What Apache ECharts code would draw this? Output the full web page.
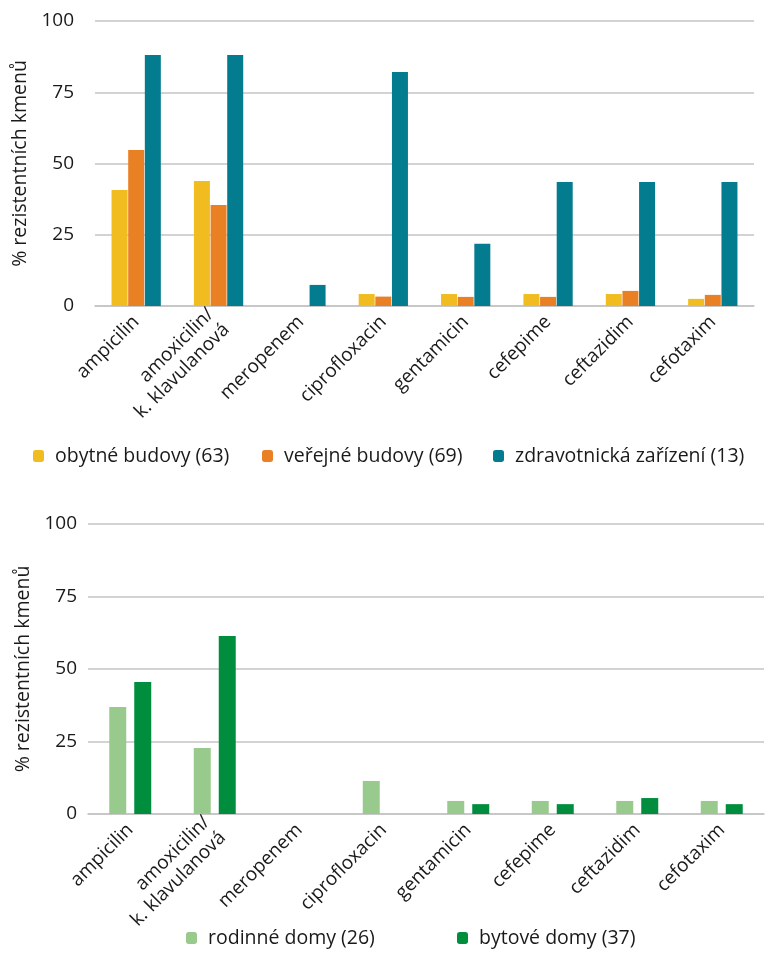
<!DOCTYPE html>
<html>
<head>
<meta charset="utf-8">
<script src="https://cdn.jsdelivr.net/npm/echarts@6/dist/echarts.min.js"></script>
<style>
  html, body { margin: 0; padding: 0; background: #fff; }
  #chart { width: 776px; height: 970px; }
</style>
</head>
<body>
<div id="chart"></div>
<script>
// Antibiotics on the x axis (shared by both panels)
const antibiotics = ['ampicilin', 'amoxicilin/\nk. klavulanová', 'meropenem', 'ciprofloxacin',
  'gentamicin', 'cefepime', 'ceftazidim', 'cefotaxim'];

// Panel 1: building types (sample counts in brackets)
const residential = [40.7, 43.9, 0, 4.2, 4.2, 4.2, 4.2, 2.5];
const publicBuildings = [54.7, 35.4, 0, 3.3, 3.2, 3.2, 5.3, 3.9];
const healthcare = [88.1, 88.1, 7.4, 82.1, 21.8, 43.5, 43.5, 43.5];

// Panel 2: residential buildings split by type
const familyHouses = [36.9, 22.8, 0, 11.4, 4.5, 4.5, 4.5, 4.5];
const apartmentBlocks = [45.5, 61.4, 0, 0, 3.4, 3.4, 5.5, 3.4];

const yTicks = [0, 25, 50, 75, 100];
const yName = '% rezistentních kmenů';

const FONT = '"Open Sans", "Noto Sans", sans-serif';
const TXT = '#1a1a1a';
const GRID_LINE = '#c4c4c4';

function xAxisFor(gridIndex) {
  return {
    type: 'category', gridIndex, data: antibiotics,
    axisLine: { show: true, lineStyle: { color: GRID_LINE, width: 1.5 } },
    axisTick: { show: false },
    axisLabel: { rotate: 45, interval: 0, margin: 13, color: TXT, fontFamily: FONT,
      fontSize: 19, lineHeight: 22 }
  };
}
function yAxisFor(gridIndex, gap, labelMargin) {
  return {
    type: 'value', gridIndex, min: yTicks[0], max: yTicks[yTicks.length - 1], interval: 25,
    name: yName, nameLocation: 'middle', nameRotate: 90, nameGap: gap,
    nameTextStyle: { color: TXT, fontFamily: FONT, fontSize: 19.5 },
    axisLine: { show: false }, axisTick: { show: false },
    axisLabel: { color: TXT, fontFamily: FONT, fontSize: 19, margin: labelMargin },
    splitLine: { lineStyle: { color: GRID_LINE, width: 1.5 } }
  };
}
function bar(name, data, color, axisIndex, width, gap) {
  return { name, type: 'bar', data, xAxisIndex: axisIndex, yAxisIndex: axisIndex,
    barWidth: width, barGap: gap, itemStyle: { color }, silent: true };
}

const legendText = { color: TXT, fontFamily: FONT, fontSize: 19.5, padding: [0, 0, 0, 6] };
// one legend entry per series so each one can sit at its own place
function legendItem(name, left, top) {
  return { data: [name], left, top, itemWidth: 11, itemHeight: 12, textStyle: legendText };
}

const chart = echarts.init(document.getElementById('chart'), null, { renderer: 'canvas' });
chart.setOption({
  animation: false,
  backgroundColor: '#fff',
  grid: [
    { left: 95, right: 22, top: 21, height: 285 },
    { left: 88, right: 12, top: 524, height: 290 }
  ],
  legend: [
    legendItem('obytné budovy (63)', 28, 441),
    legendItem('veřejné budovy (69)', 257, 441),
    legendItem('zdravotnická zařízení (13)', 488, 441),
    legendItem('rodinné domy (26)', 181, 923),
    legendItem('bytové domy (37)', 452, 923)
  ],
  xAxis: [xAxisFor(0), xAxisFor(1)],
  yAxis: [yAxisFor(0, 55, 21), yAxisFor(1, 48, 11)],
  series: [
    bar('obytné budovy (63)', residential, '#F0BC1F', 0, 16, '4%'),
    bar('veřejné budovy (69)', publicBuildings, '#E98024', 0, 16, '4%'),
    bar('zdravotnická zařízení (13)', healthcare, '#037C8F', 0, 16, '4%'),
    bar('rodinné domy (26)', familyHouses, '#99CA8D', 1, 17, '47%'),
    bar('bytové domy (37)', apartmentBlocks, '#008E3E', 1, 17, '47%')
  ]
});
</script>
</body>
</html>
